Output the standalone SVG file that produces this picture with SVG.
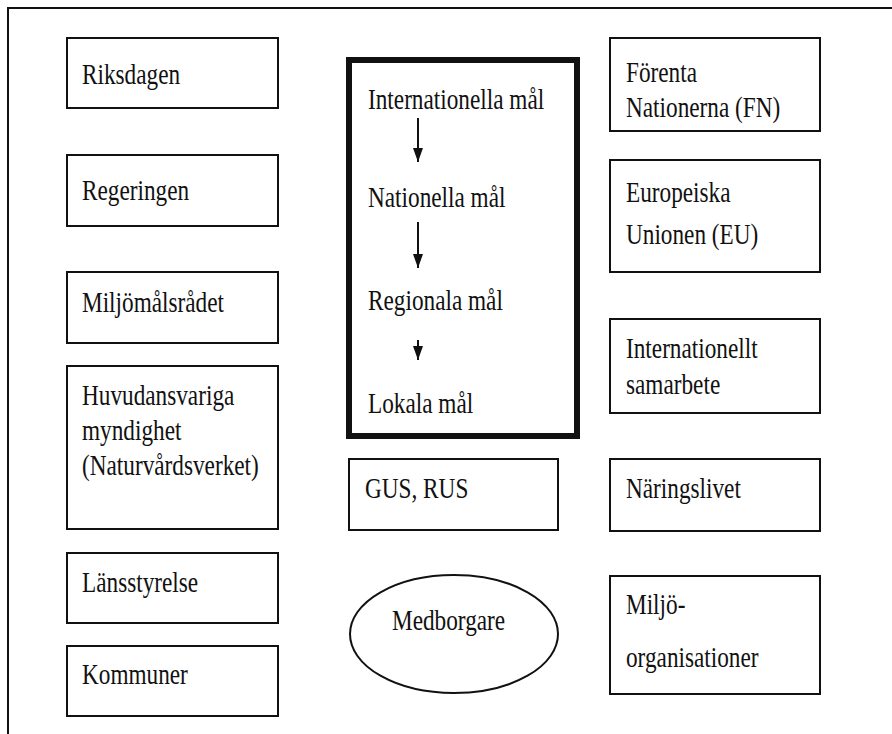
<svg xmlns="http://www.w3.org/2000/svg" width="892" height="734" viewBox="0 0 892 734">
<defs>
<style>
.box{fill:#fff;stroke:#111;stroke-width:2}
.thick{fill:#fff;stroke:#111;stroke-width:6}
.t{font-family:"Liberation Serif","Times New Roman",serif;font-size:30px;fill:#111}
.conn{stroke:#111;stroke-width:2;fill:none}
</style>
<marker id="ah" viewBox="0 0 14 10" refX="14" refY="5" markerWidth="14" markerHeight="10" markerUnits="userSpaceOnUse" orient="auto">
<path d="M0,0 L14,5 L0,10 Z" fill="#111"/>
</marker>
</defs>
<rect width="892" height="734" fill="#fff"/>
<path d="M8,734 L8,8 L892,8" fill="none" stroke="#111" stroke-width="2"/>

<g id="riksdagen"><rect class="box" x="67" y="38" width="211" height="70"/><text class="t" transform="translate(82,84) scale(0.775,1)">Riksdagen</text></g>
<g id="regeringen"><rect class="box" x="67" y="155" width="211" height="71"/><text class="t" transform="translate(82,200) scale(0.775,1)">Regeringen</text></g>
<g id="miljomalsradet"><rect class="box" x="67" y="272" width="211" height="71"/><text class="t" transform="translate(82,312) scale(0.775,1)">Miljömålsrådet</text></g>
<g id="huvudansvariga"><rect class="box" x="67" y="366" width="211" height="163"/><text class="t" transform="translate(82,405) scale(0.775,1)"><tspan x="0" y="0">Huvudansvariga</tspan><tspan x="0" y="35">myndighet</tspan><tspan x="0" y="70">(Naturvårdsverket)</tspan></text></g>
<g id="lansstyrelse"><rect class="box" x="67" y="553" width="211" height="70"/><text class="t" transform="translate(82,592) scale(0.775,1)">Länsstyrelse</text></g>
<g id="kommuner"><rect class="box" x="67" y="646" width="211" height="70"/><text class="t" transform="translate(82,684) scale(0.775,1)">Kommuner</text></g>

<g id="mal"><rect class="thick" x="349" y="60" width="228" height="376"/>
<text class="t" transform="translate(368,109) scale(0.775,1)">Internationella mål</text>
<text class="t" transform="translate(368,207) scale(0.775,1)">Nationella mål</text>
<text class="t" transform="translate(368,310) scale(0.775,1)">Regionala mål</text>
<text class="t" transform="translate(368,413) scale(0.775,1)">Lokala mål</text>
</g>
<g id="gus"><rect class="box" x="349" y="459" width="209" height="71"/><text class="t" transform="translate(365,498) scale(0.775,1)">GUS, RUS</text></g>
<g id="medborgare"><ellipse cx="454" cy="634" rx="104" ry="59" fill="#fff" stroke="#111" stroke-width="2"/><text class="t" transform="translate(392,630) scale(0.775,1)">Medborgare</text></g>

<g id="fn"><rect class="box" x="610" y="38" width="210" height="93"/><text class="t" transform="translate(626,82) scale(0.775,1)"><tspan x="0" y="0">Förenta</tspan><tspan x="0" y="35">Nationerna (FN)</tspan></text></g>
<g id="eu"><rect class="box" x="610" y="160" width="210" height="112"/><text class="t" transform="translate(626,202) scale(0.775,1)"><tspan x="0" y="0">Europeiska</tspan><tspan x="0" y="42">Unionen (EU)</tspan></text></g>
<g id="internationellt"><rect class="box" x="610" y="319" width="210" height="94"/><text class="t" transform="translate(626,358) scale(0.775,1)"><tspan x="0" y="0">Internationellt</tspan><tspan x="0" y="36">samarbete</tspan></text></g>
<g id="naringslivet"><rect class="box" x="610" y="459" width="210" height="72"/><text class="t" transform="translate(626,498) scale(0.775,1)">Näringslivet</text></g>
<g id="miljoorg"><rect class="box" x="610" y="576" width="210" height="118"/><text class="t" transform="translate(626,614) scale(0.775,1)"><tspan x="0" y="0">Miljö-</tspan><tspan x="0" y="53">organisationer</tspan></text></g>

<g id="connectors">
<line class="conn" x1="418" y1="118" x2="418" y2="162" marker-end="url(#ah)"/>
<line class="conn" x1="418" y1="222" x2="418" y2="268" marker-end="url(#ah)"/>
<line class="conn" x1="418" y1="340" x2="418" y2="360" marker-end="url(#ah)"/>
</g>
</svg>
